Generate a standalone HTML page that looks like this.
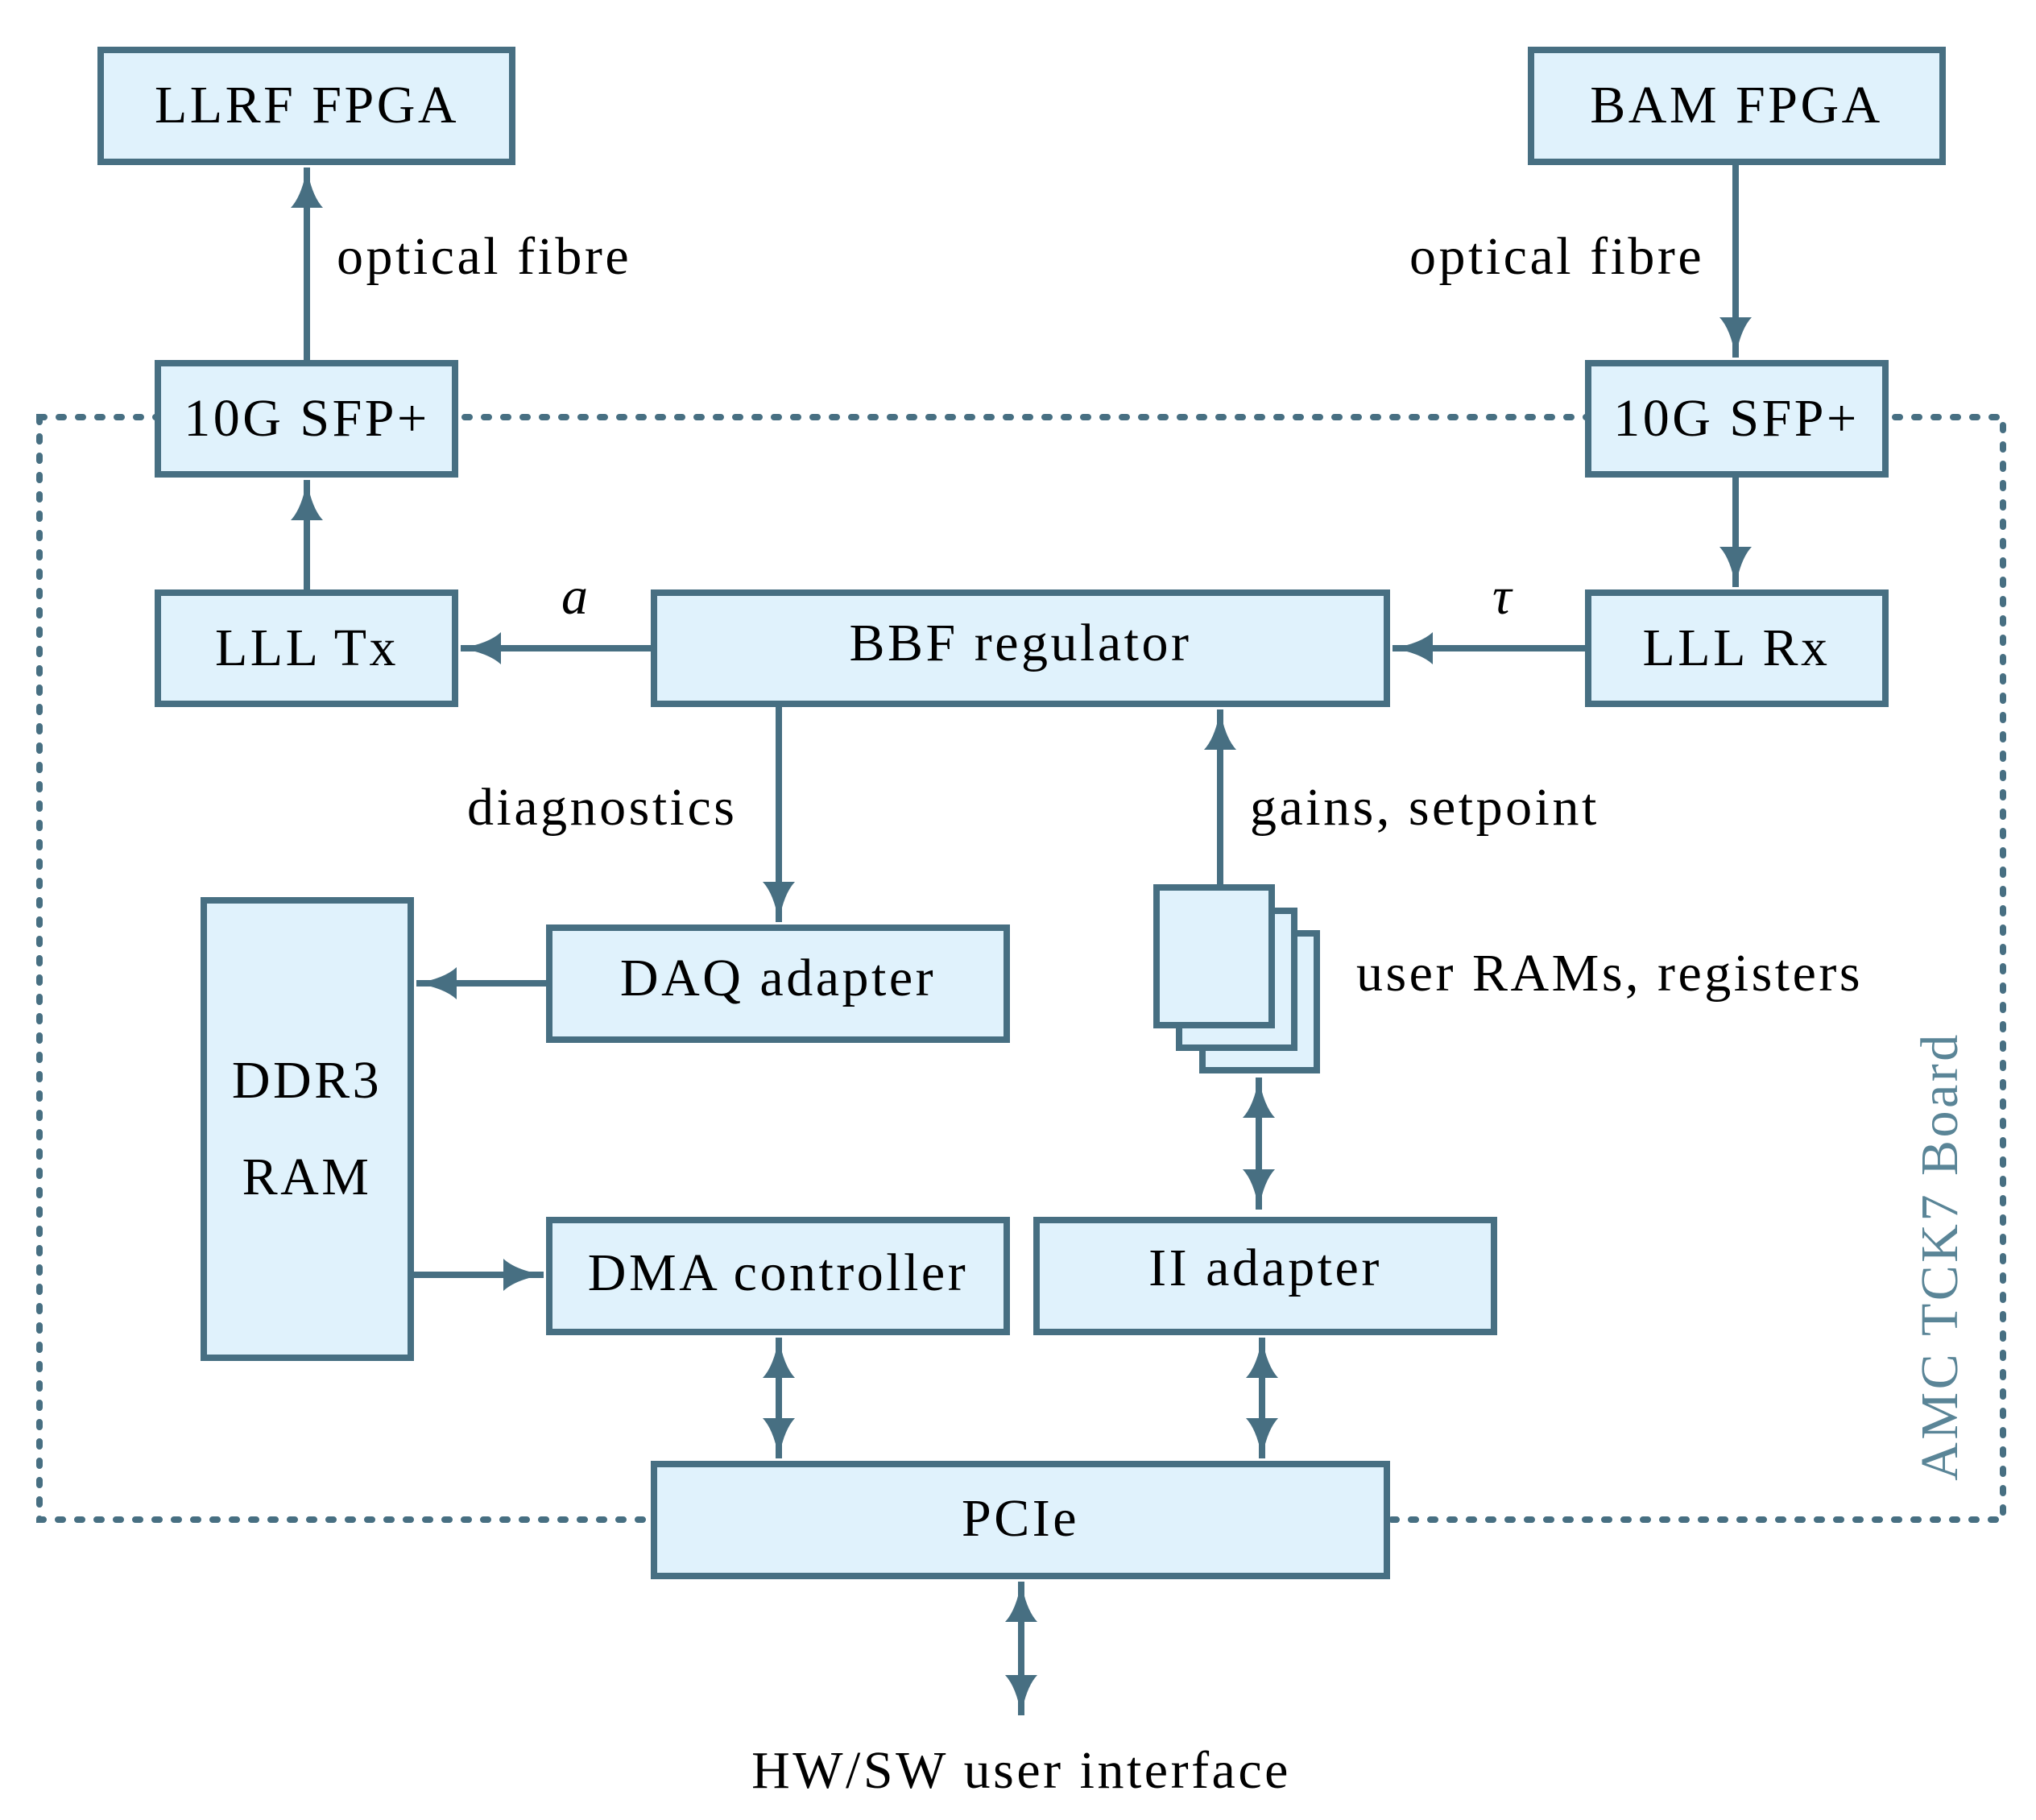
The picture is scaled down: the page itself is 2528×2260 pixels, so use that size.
<!DOCTYPE html>
<html><head><meta charset="utf-8"><style>
html,body{margin:0;padding:0;background:#fff;}
svg{display:block;}
text{font-family:"Liberation Serif",serif;font-size:66px;letter-spacing:3.5px;fill:#000;}
</style></head><body>
<svg width="2528" height="2260" viewBox="0 0 2528 2260" xmlns="http://www.w3.org/2000/svg">
<defs>
<marker id="ah" markerWidth="50" markerHeight="40" refX="50" refY="20" orient="auto-start-reverse" markerUnits="userSpaceOnUse">
<path d="M0,0 Q15,14 50,20 Q15,26 0,40 Z" fill="#476f82"/>
</marker>
</defs>
<g fill="none" stroke="#476f82" stroke-width="8" stroke-dasharray="6,18" stroke-linecap="round">
<rect x="49" y="518" width="2438" height="1369"/>
</g>
<g stroke="#476f82" stroke-width="8" fill="none">
<line x1="381" y1="449" x2="381" y2="208" marker-end="url(#ah)"/>
<line x1="2155" y1="203" x2="2155" y2="444" marker-end="url(#ah)"/>
<line x1="381" y1="734" x2="381" y2="596" marker-end="url(#ah)"/>
<line x1="2155" y1="591" x2="2155" y2="729" marker-end="url(#ah)"/>
<line x1="810" y1="805" x2="572" y2="805" marker-end="url(#ah)"/>
<line x1="1970" y1="805" x2="1729" y2="805" marker-end="url(#ah)"/>
<line x1="967" y1="876" x2="967" y2="1145" marker-end="url(#ah)"/>
<line x1="1515" y1="1098" x2="1515" y2="881" marker-end="url(#ah)"/>
<line x1="680" y1="1221" x2="517" y2="1221" marker-end="url(#ah)"/>
<line x1="512" y1="1583" x2="675" y2="1583" marker-end="url(#ah)"/>
<line x1="967" y1="1661" x2="967" y2="1811" marker-start="url(#ah)" marker-end="url(#ah)"/>
<line x1="1567" y1="1661" x2="1567" y2="1811" marker-start="url(#ah)" marker-end="url(#ah)"/>
<line x1="1563" y1="1338" x2="1563" y2="1502" marker-start="url(#ah)" marker-end="url(#ah)"/>
<line x1="1268" y1="1964" x2="1268" y2="2130" marker-start="url(#ah)" marker-end="url(#ah)"/>
</g>
<g fill="#e0f2fc" stroke="#476f82" stroke-width="8">
<rect x="125" y="62" width="511" height="139"/>
<rect x="1901" y="62" width="511" height="139"/>
<rect x="196" y="451" width="369" height="138"/>
<rect x="1972" y="451" width="369" height="138"/>
<rect x="196" y="736" width="369" height="138"/>
<rect x="812" y="736" width="910" height="138"/>
<rect x="1972" y="736" width="369" height="138"/>
<rect x="682" y="1152" width="568" height="139"/>
<rect x="253" y="1118" width="257" height="568"/>
<rect x="682" y="1515" width="568" height="139"/>
<rect x="1287" y="1515" width="568" height="139"/>
<rect x="812" y="1818" width="910" height="139"/>
<rect x="1493" y="1159" width="142" height="170"/>
<rect x="1464" y="1131" width="143" height="170"/>
<rect x="1436" y="1102" width="143" height="171"/>
</g>
<g text-anchor="middle">
<text x="381" y="152">LLRF FPGA</text>
<text x="2156" y="152">BAM FPGA</text>
<text x="381" y="541">10G SFP+</text>
<text x="2156" y="541">10G SFP+</text>
<text x="381" y="826">LLL Tx</text>
<text x="1267" y="820">BBF regulator</text>
<text x="2156" y="826">LLL Rx</text>
<text x="966" y="1236">DAQ adapter</text>
<text x="381" y="1363">DDR3</text>
<text x="381" y="1483">RAM</text>
<text x="966" y="1602">DMA controller</text>
<text x="1571" y="1596">II adapter</text>
<text x="1267" y="1907">PCIe</text>
<text x="1268" y="2220">HW/SW user interface</text>
</g>
<text x="418" y="340">optical fibre</text>
<text x="1750" y="340">optical fibre</text>
<text x="697" y="762" font-style="italic">a</text>
<text x="1853" y="762" font-style="italic">τ</text>
<text x="580" y="1024">diagnostics</text>
<text x="1552" y="1024">gains, setpoint</text>
<text x="1684" y="1230">user RAMs, registers</text>
<text transform="translate(2430,1560) rotate(-90)" text-anchor="middle" style="fill:#5a8597">AMC TCK7 Board</text>
</svg>
</body></html>
